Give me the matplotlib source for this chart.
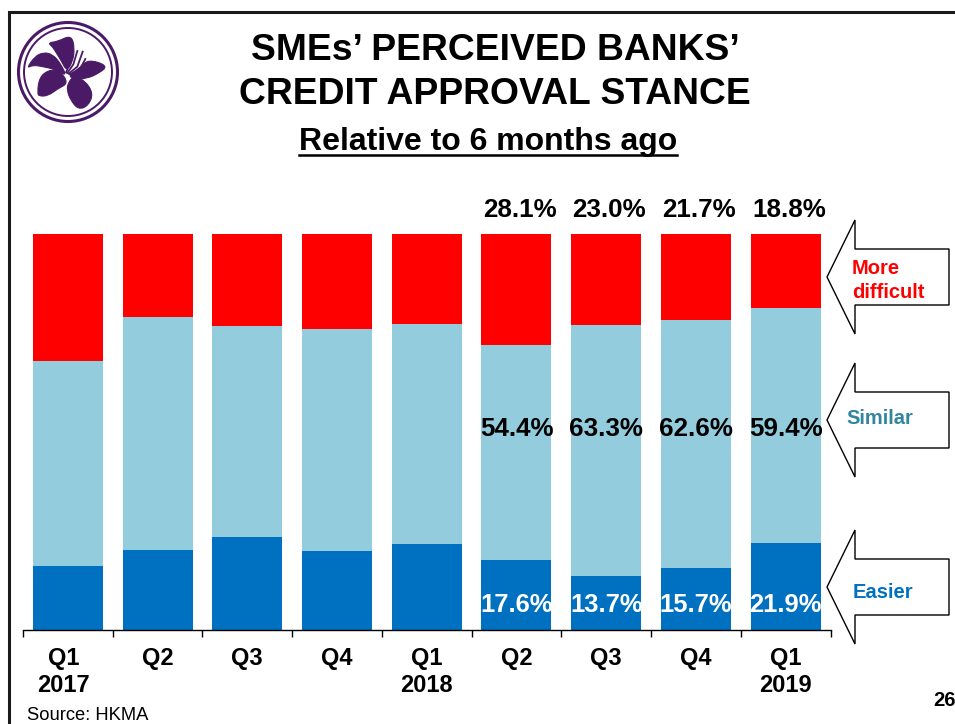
import matplotlib
matplotlib.use("Agg")
import matplotlib.pyplot as plt
import numpy as np
from matplotlib.patches import Circle, PathPatch, Polygon
from matplotlib.path import Path
from matplotlib.transforms import ScaledTranslation

plt.rcParams["font.family"] = ["Liberation Sans", "DejaVu Sans"]

# Values; only the last four quarters are labelled in the source
quarters = ["Q1\n2017", "Q2", "Q3", "Q4", "Q1\n2018", "Q2", "Q3", "Q4", "Q1\n2019"]
easier = [16.2, 20.2, 23.5, 19.9, 21.7, 17.6, 13.7, 15.7, 21.9]
similar = [51.8, 58.8, 53.3, 56.1, 55.6, 54.4, 63.3, 62.6, 59.4]
difficult = [32.0, 21.0, 23.2, 24.0, 22.7, 28.1, 23.0, 21.7, 18.8]
labelled_from = 5

RED = "#FF0000"
LIGHT = "#93CDDD"
BLUE = "#0070C0"
PURPLE = "#4B1A66"

W, H = 955, 724
fig = plt.figure(figsize=(W / 100, H / 100), dpi=100)

# Full-figure overlay in pixel coordinates for the slide furniture
page = fig.add_axes([0, 0, 1, 1])
page.set_xlim(0, W)
page.set_ylim(H, 0)
page.axis("off")

# Chart area
ax = fig.add_axes([23 / W, 1 - 630 / H, (830.5 - 23) / W, 396 / H])
x = np.arange(len(quarters))
easier_a = np.array(easier)
similar_a = np.array(similar)
difficult_a = np.array(difficult)
ax.bar(x, easier_a, width=0.78, color=BLUE)
ax.bar(x, similar_a, width=0.78, bottom=easier_a, color=LIGHT)
ax.bar(x, difficult_a, width=0.78, bottom=easier_a + similar_a, color=RED)
ax.set_xlim(-0.5, len(quarters) - 0.5)
ax.set_ylim(0, 100)
ax.patch.set_alpha(0)
for side in ["top", "left", "right"]:
    ax.spines[side].set_visible(False)
ax.spines["bottom"].set_linewidth(1.0)
ax.yaxis.set_visible(False)
ax.set_xticks(x)
ax.set_xticklabels(quarters, fontsize=17, fontweight="bold", linespacing=1.22)
ax.set_xticks(np.arange(len(quarters) + 1) - 0.5, minor=True)
ax.tick_params(axis="x", which="major", length=0, pad=12.5)
ax.tick_params(axis="x", which="minor", length=5, width=1.0)
# First label sits a little left of its bar in the source
shift = ScaledTranslation(-4 / 100, 0, fig.dpi_scale_trans)
first = ax.get_xticklabels()[0]
first.set_transform(first.get_transform() + shift)

for i in range(labelled_from, len(quarters)):
    ax.text(i + 0.035, 106.0, f"{difficult[i]:.1f}%", ha="center", va="center",
            fontsize=18.7, fontweight="bold", color="black", clip_on=False)
    ax.text(i, 50.8, f"{similar[i]:.1f}%", ha="center", va="center",
            fontsize=18.7, fontweight="bold", color="black")
    ax.text(i, 6.3, f"{easier[i]:.1f}%", ha="center", va="center",
            fontsize=18.4, fontweight="bold", color="white")

# Slide frame
page.plot([9, 9, W], [H, 12, 12], color="#1a1a1a", lw=2.2, solid_joinstyle="miter")

# Titles
page.text(495, 50, "SMEs’ PERCEIVED BANKS’", ha="center", va="center",
          fontsize=26.8, fontweight="bold")
page.text(495, 95, "CREDIT APPROVAL STANCE", ha="center", va="center",
          fontsize=26.8, fontweight="bold")
page.text(488, 142, "Relative to 6 months ago", ha="center", va="center",
          fontsize=23, fontweight="bold")
page.plot([299, 677], [155, 155], color="black", lw=1.8)

# Category arrows
arrow_y = [277, 420, 587]
for cy in arrow_y:
    pts = [(827, cy), (855, cy - 57), (855, cy - 28), (949, cy - 28),
           (949, cy + 28), (855, cy + 28), (855, cy + 57)]
    page.add_patch(Polygon(pts, closed=True, fc="white", ec="black", lw=1.0))
page.text(852, 269, "More", ha="left", va="center", fontsize=14.5, fontweight="bold", color=RED)
page.text(852, 293, "difficult", ha="left", va="center", fontsize=14.5, fontweight="bold", color=RED)
page.text(880, 419, "Similar", ha="center", va="center", fontsize=14.5, fontweight="bold", color="#31859C")
page.text(883, 592, "Easier", ha="center", va="center", fontsize=14.5, fontweight="bold", color=BLUE)

# Footer
page.text(27, 716, "Source: HKMA", ha="left", va="center", fontsize=13.2)
page.text(933, 700, "26", ha="left", va="center", fontsize=14.5, fontweight="bold")


def smooth_shape(points):
    # closed quadratic spline through the midpoints of the outline
    p = np.array(points, dtype=float) / 3 + [20, 25]
    mids = (p + np.roll(p, -1, axis=0)) / 2
    verts = [mids[-1]]
    codes = [Path.MOVETO]
    for ctrl, end in zip(p, mids):
        verts += [ctrl, end]
        codes += [Path.CURVE3, Path.CURVE3]
    return Path(verts, codes)


# Logo: bauhinia in a double ring (outlines in zoomed-crop units)
page.add_patch(Circle((68, 72), 49.5, fc="none", ec=PURPLE, lw=2.2))
page.add_patch(Circle((68, 72), 44, fc="none", ec=PURPLE, lw=1.4))
petals = [
    [(84, 53), (112, 50), (154, 30), (164, 70), (158, 110), (140, 138), (124, 108), (110, 85), (98, 66)],
    [(20, 130), (44, 95), (70, 82), (98, 88), (122, 116), (140, 154), (108, 134), (70, 125), (38, 120)],
    [(52, 204), (58, 158), (85, 135), (118, 136), (146, 174), (112, 192), (85, 212), (58, 214)],
    [(144, 175), (160, 153), (194, 166), (220, 205), (205, 242), (175, 254), (151, 224), (141, 195)],
    [(144, 153), (180, 128), (205, 103), (264, 122), (238, 144), (200, 161), (165, 161)],
]
for petal in petals:
    page.add_patch(PathPatch(smooth_shape(petal), fc=PURPLE, ec=PURPLE, lw=0.8))
stamens = [
    [(138, 142), (150, 115), (158, 92)],
    [(142, 144), (160, 118), (172, 78)],
    [(146, 146), (172, 125), (188, 80)],
    [(150, 148), (180, 132), (196, 102)],
]
for stamen in stamens:
    s = np.array(stamen, dtype=float) / 3 + [20, 25]
    page.plot(s[:, 0], s[:, 1], color=PURPLE, lw=1.3)

fig.savefig("out.png", dpi=100)
